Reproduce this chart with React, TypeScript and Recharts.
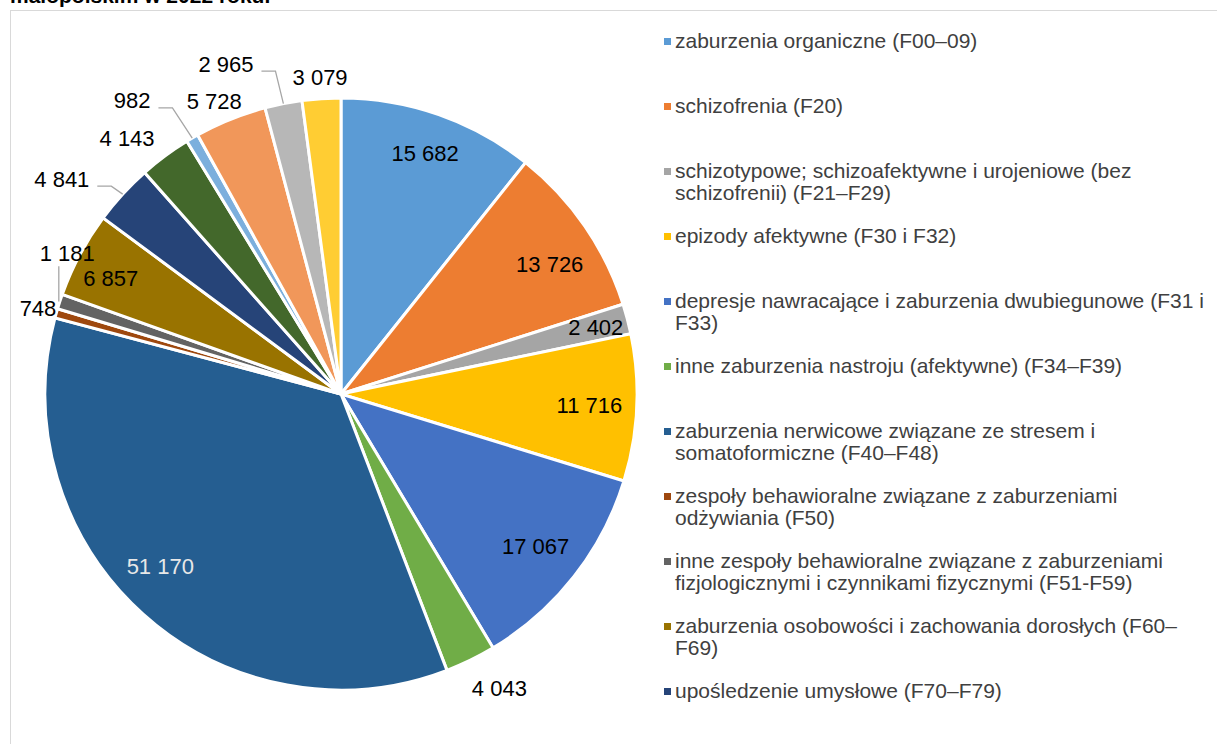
import { PieChart, Pie, Cell } from "recharts";

const FONT = "'Liberation Sans', Arial, Helvetica, sans-serif";

// diagnoses, in drawing order (clockwise from 12 o'clock)
const CATEGORIES = [
  "zaburzenia organiczne (F00–09)",
  "schizofrenia (F20)",
  "schizotypowe; schizoafektywne i urojeniowe (bez schizofrenii) (F21–F29)",
  "epizody afektywne (F30 i F32)",
  "depresje nawracające i zaburzenia dwubiegunowe (F31 i F33)",
  "inne zaburzenia nastroju (afektywne) (F34–F39)",
  "zaburzenia nerwicowe związane ze stresem i somatoformiczne (F40–F48)",
  "zespoły behawioralne związane z zaburzeniami odżywiania (F50)",
  "inne zespoły behawioralne związane z zaburzeniami fizjologicznymi i czynnikami fizycznymi (F51-F59)",
  "zaburzenia osobowości i zachowania dorosłych (F60–F69)",
  "upośledzenie umysłowe (F70–F79)",
  "zaburzenia rozwoju psychologicznego (F80–F89)",
  "zaburzenia zachowania i emocji rozpoczynające się zwykle w dzieciństwie (F90–F98)",
  "nieokreślone zaburzenia psychiczne (F99)",
  "zaburzenia spowodowane użyciem alkoholu (F10)",
  "zaburzenia spowodowane użyciem innych substancji (F11–F19)",
];

const VALUES = [
  15682, 13726, 2402, 11716, 17067, 4043, 51170, 748, 1181, 6857, 4841, 4143,
  982, 5728, 2965, 3079,
];

const COLORS = [
  "#5B9BD5", "#ED7D31", "#A5A5A5", "#FFC000", "#4472C4", "#70AD47",
  "#255E91", "#9E480E", "#636363", "#997300", "#264478", "#43682B",
  "#7CAFDD", "#F1975A", "#B7B7B7", "#FFCD33",
];

// label placement: radius as share of outer radius, angular nudge (deg, clockwise)
const LABEL_RADIUS = [
  0.86, 0.83, 0.89, 0.84, 0.835, 1.13, 0.845, 1.064, 1.04, 0.87, 1.19, 1.125,
  1.216, 1.078, 1.18, 1.07,
];
const LABEL_SHIFT = [0, 2.7, 0, 0, 0, -2.3, 4.3, 0, 9, -1.5, -4.9, -3.5, -5.3, -1.5, -8, 0];
const LEADER: Record<number, "h" | "v"> = { 8: "v", 10: "h", 12: "h", 14: "h" };

const data = CATEGORIES.map((name, i) => ({ name, value: VALUES[i] }));

const fmt = (v: number) => String(v).replace(/\B(?=(\d{3})+(?!\d))/g, " ");

const RAD = Math.PI / 180;

function renderLabel(p: any) {
  const { cx, cy, midAngle, outerRadius, index, value } = p;
  const base = 90 - midAngle;
  const th = (base + LABEL_SHIFT[index]) * RAD;
  const r = outerRadius * LABEL_RADIUS[index];
  const x = cx + r * Math.sin(th);
  const y = cy - r * Math.cos(th);
  const text = fmt(value);
  const ex = cx + outerRadius * Math.sin(base * RAD);
  const ey = cy - outerRadius * Math.cos(base * RAD);
  let line = null;
  if (LEADER[index] === "h") {
    const digits = text.replace(/ /g, "").length;
    const w = digits * 12.2 + (text.length - digits) * 6.1;
    const sx = x + w / 2 + 8;
    const sy = y + 7;
    line = (
      <polyline
        points={`${sx},${sy} ${sx + 14},${sy} ${ex},${ey}`}
        fill="none"
        stroke="#A6A6A6"
        strokeWidth={1.3}
      />
    );
  } else if (LEADER[index] === "v") {
    line = (
      <polyline
        points={`${ex - 1},${y + 13} ${ex - 1},${ey}`}
        fill="none"
        stroke="#A6A6A6"
        strokeWidth={1.3}
      />
    );
  }
  return (
    <g key={`lbl-${index}`}>
      {line}
      <text
        x={x}
        y={y}
        textAnchor="middle"
        dominantBaseline="central"
        fontFamily={FONT}
        fontSize={22}
        fill={index === 6 ? "#E8E8E8" : "#000"}
      >
        {text}
      </text>
    </g>
  );
}

export default function App() {
  return (
    <div
      style={{
        position: "fixed",
        left: 0,
        top: 0,
        width: 1217,
        height: 744,
        overflow: "hidden",
        background: "#fff",
        fontFamily: FONT,
      }}
    >
      <div
        style={{
          position: "absolute",
          left: 10,
          top: -15,
          fontSize: 21,
          lineHeight: "21px",
          fontWeight: 700,
          color: "#000",
          whiteSpace: "nowrap",
        }}
      >
        małopolskim w 2022 roku.
      </div>
      <div
        style={{
          position: "absolute",
          left: 10,
          top: 10,
          width: 1300,
          height: 800,
          border: "1px solid #D9D9D9",
        }}
      />
      <div style={{ position: "absolute", left: 0, top: 0 }}>
        <PieChart width={660} height={744} margin={{ top: 0, right: 0, bottom: 0, left: 0 }}>
          <Pie
            data={data}
            dataKey="value"
            nameKey="name"
            cx={341}
            cy={394}
            outerRadius={296}
            startAngle={90}
            endAngle={-270}
            stroke="#fff"
            strokeWidth={3}
            label={renderLabel}
            labelLine={false}
            isAnimationActive={false}
          >
            {data.map((d, i) => (
              <Cell key={d.name} fill={COLORS[i]} />
            ))}
          </Pie>
        </PieChart>
      </div>
      {CATEGORIES.map((name, i) => (
        <div
          key={name}
          style={{
            position: "absolute",
            left: 664,
            top: 30 + i * 65,
            width: 560,
            display: "flex",
            alignItems: "flex-start",
            color: "#404040",
            fontSize: 21,
            lineHeight: "22px",
          }}
        >
          <span
            style={{
              width: 7,
              height: 7,
              marginTop: 8,
              marginRight: 4,
              flex: "0 0 auto",
              background: COLORS[i],
            }}
          />
          <span style={{ width: 540 }}>{name}</span>
        </div>
      ))}
    </div>
  );
}
